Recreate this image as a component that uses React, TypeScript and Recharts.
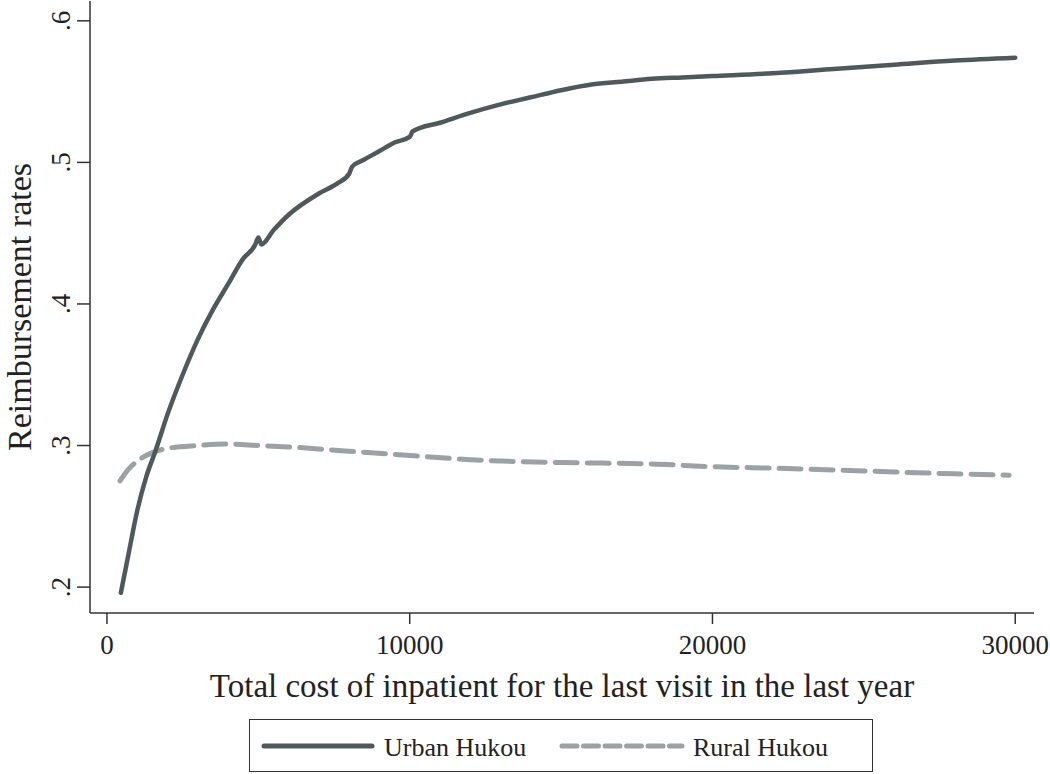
import React from "react";
import { LineChart, Line, XAxis, YAxis } from "recharts";

const urbanCost = [460, 700, 1000, 1300, 1600, 2000, 2500, 3000, 3500, 4000, 4500, 4900, 5000, 5100, 5500, 6000, 7000, 7600, 8000, 8100, 8500, 9000, 9500, 10000, 10100, 11000, 12000, 13000, 14000, 15000, 16000, 17000, 18000, 19000, 20000, 22000, 24000, 26000, 28000, 30000];
const urbanRate = [0.196, 0.222, 0.254, 0.278, 0.296, 0.322, 0.350, 0.375, 0.396, 0.414, 0.432, 0.442, 0.447, 0.442, 0.452, 0.463, 0.478, 0.485, 0.492, 0.497, 0.502, 0.508, 0.514, 0.518, 0.522, 0.528, 0.535, 0.541, 0.546, 0.551, 0.555, 0.557, 0.559, 0.560, 0.561, 0.563, 0.566, 0.569, 0.572, 0.574];

const ruralCost = [430, 700, 1000, 1500, 2000, 3000, 4000, 5000, 6000, 8000, 10000, 12000, 15000, 18000, 20000, 22000, 25000, 28000, 29800];
const ruralRate = [0.275, 0.283, 0.289, 0.295, 0.298, 0.300, 0.301, 0.300, 0.299, 0.296, 0.293, 0.290, 0.288, 0.287, 0.285, 0.284, 0.282, 0.280, 0.279];

const xTicks = [0, 10000, 20000, 30000];
const yTicks = [0.2, 0.3, 0.4, 0.5, 0.6];
const yTickLabels = [".2", ".3", ".4", ".5", ".6"];

const seriesNames = ["Urban Hukou", "Rural Hukou"];
const xTitle = "Total cost of inpatient for the last visit in the last year";
const yTitle = "Reimbursement rates";

const urbanData = urbanCost.map((x, i) => ({ x, rate: urbanRate[i] }));
const ruralData = ruralCost.map((x, i) => ({ x, rate: ruralRate[i] }));

const URBAN = "#4e595b";
const RURAL = "#9ca1a3";
const FRAME = "#333333";
const FONT = "'Liberation Serif', 'Times New Roman', serif";

const YTick = (props: any) => {
  const { x, y, payload } = props;
  const idx = yTicks.indexOf(payload.value);
  const label = idx >= 0 ? yTickLabels[idx] : String(payload.value);
  const bx = x - 5;
  return (
    <text
      x={bx}
      y={y}
      transform={`rotate(-90, ${bx}, ${y})`}
      textAnchor="middle"
      fontFamily={FONT}
      fontSize={27}
      fill="#222"
    >
      {label}
    </text>
  );
};

const XTick = (props: any) => {
  const { x, y, payload } = props;
  return (
    <text x={x} y={y + 28} textAnchor="middle" fontFamily={FONT} fontSize={27} fill="#222">
      {String(payload.value)}
    </text>
  );
};

export default function App() {
  return (
    <div style={{ position: "absolute", left: 0, top: 0, width: 1050, height: 774, background: "#fff" }}>
      <LineChart
        width={1050}
        height={774}
        margin={{ top: 1, right: 16, left: 0, bottom: 0 }}
      >
        <XAxis
          dataKey="x"
          type="number"
          domain={[-560, 30620]}
          ticks={xTicks}
          allowDataOverflow
          height={161}
          tickSize={11}
          tick={<XTick />}
          axisLine={{ stroke: FRAME, strokeWidth: 1.5 }}
          tickLine={{ stroke: FRAME, strokeWidth: 1.5 }}
        />
        <XAxis
          xAxisId="top"
          orientation="top"
          dataKey="x"
          type="number"
          domain={[-560, 30620]}
          height={0}
          tick={false}
          tickLine={false}
          axisLine={{ stroke: FRAME, strokeWidth: 1.5 }}
        />
        <YAxis
          type="number"
          domain={[0.1817, 0.614]}
          ticks={yTicks}
          allowDataOverflow
          width={90}
          tickSize={13}
          tick={<YTick />}
          axisLine={{ stroke: FRAME, strokeWidth: 1.5 }}
          tickLine={{ stroke: FRAME, strokeWidth: 1.5 }}
        />
        <YAxis
          yAxisId="right"
          orientation="right"
          type="number"
          domain={[0.1817, 0.614]}
          width={0}
          tick={false}
          tickLine={false}
          axisLine={{ stroke: FRAME, strokeWidth: 1.5 }}
        />
        <Line
          data={ruralData}
          dataKey="rate"
          name={seriesNames[1]}
          type="monotone"
          stroke={RURAL}
          strokeWidth={5}
          strokeDasharray="22 10"
          strokeLinecap="round"
          dot={false}
          isAnimationActive={false}
        />
        <Line
          data={urbanData}
          dataKey="rate"
          name={seriesNames[0]}
          type="monotone"
          stroke={URBAN}
          strokeWidth={4.5}
          strokeLinecap="round"
          dot={false}
          isAnimationActive={false}
        />
        <text
          x={562}
          y={697}
          textAnchor="middle"
          fontFamily={FONT}
          fontSize={33}
          fill="#222"
        >
          {xTitle}
        </text>
        <text
          x={31}
          y={307}
          transform="rotate(-90, 31, 307)"
          textAnchor="middle"
          fontFamily={FONT}
          fontSize={34}
          fill="#222"
        >
          {yTitle}
        </text>
      </LineChart>
      <div
        style={{
          position: "absolute",
          left: 249,
          top: 719,
          width: 624,
          height: 53,
          border: `1.5px solid ${FRAME}`,
          boxSizing: "border-box",
          background: "#fff",
        }}
      >
        <svg width={621} height={50} style={{ position: "absolute", left: 0, top: 0 }}>
          <line x1={14} y1={26} x2={122} y2={26} stroke={URBAN} strokeWidth={5} strokeLinecap="round" />
          <text x={134} y={36} fontFamily={FONT} fontSize={26} fill="#222">{seriesNames[0]}</text>
          <line x1={312} y1={26} x2={432} y2={26} stroke={RURAL} strokeWidth={5} strokeLinecap="round" strokeDasharray="15 6.5" />
          <text x={443} y={36} fontFamily={FONT} fontSize={26} fill="#222">{seriesNames[1]}</text>
        </svg>
      </div>
    </div>
  );
}
